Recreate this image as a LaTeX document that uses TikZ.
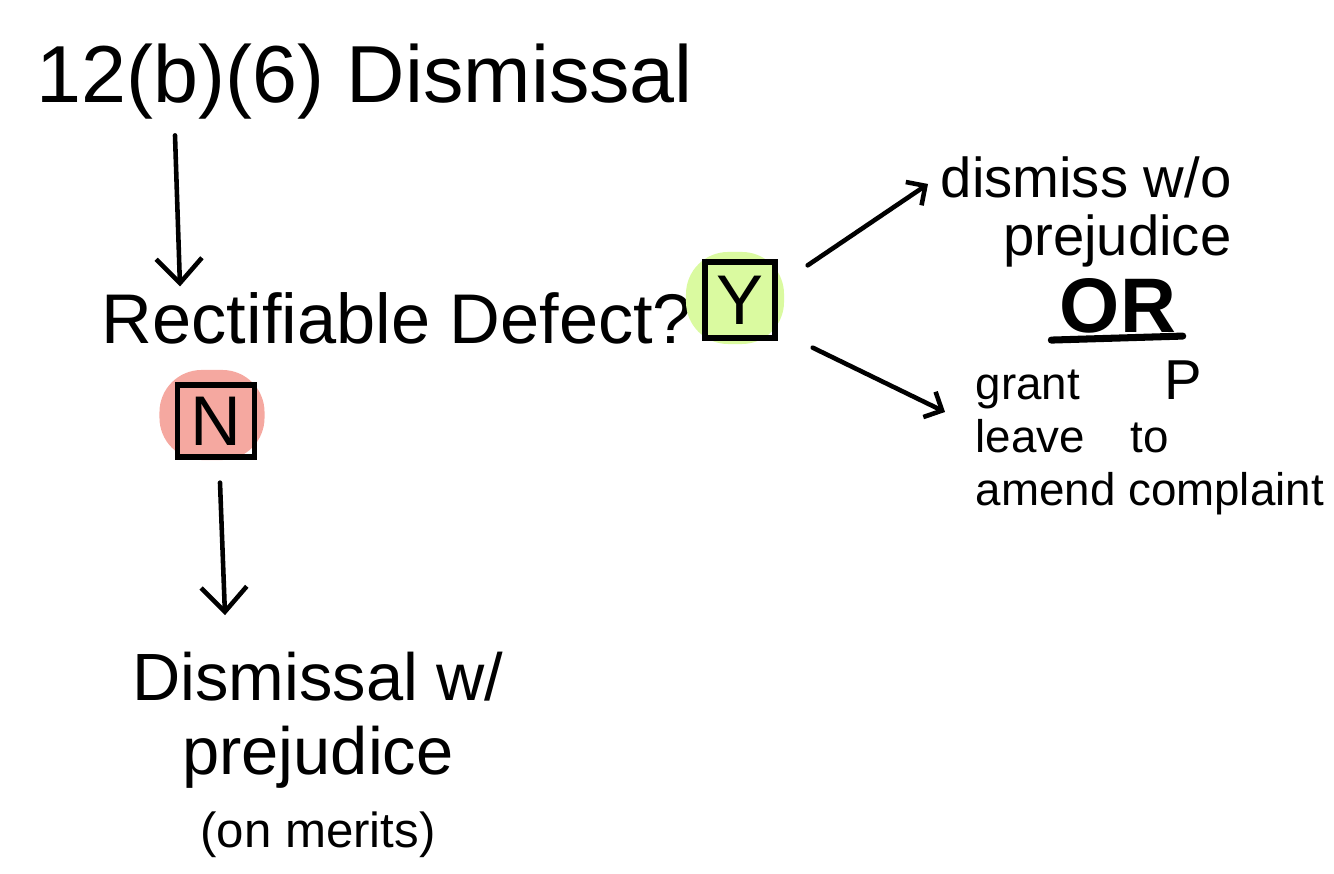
\documentclass[tikz,border=0pt]{standalone}
\usepackage{fontspec}
\setmainfont{Liberation Sans}
\usetikzlibrary{arrows.meta,positioning}
\definecolor{clrY}{RGB}{218,250,160}
\definecolor{clrN}{RGB}{245,168,160}
\tikzset{
  hand/.style={inner sep=0pt,align=center},
  blob/.style={rounded corners=12pt,inner sep=0pt},
  answer/.style={draw,line width=1.5pt,inner sep=0pt,font=\fontsize{20}{20}\selectfont},
  arrow/.style={-{Straight Barb[length=7pt,width=13pt]},line width=1.3pt,line cap=round},
  smallarrow/.style={-{Straight Barb[length=4pt,width=8pt]},line width=1.3pt,line cap=round}
}
\begin{document}
\begin{tikzpicture}[x=0.01cm,y=-0.01cm]
  \useasboundingbox (0,0) rectangle (1334,874);
  \node[hand,font=\fontsize{23}{23}\selectfont] (title) at (365,82) {12(b)(6) Dismissal};
  \node[hand,font=\fontsize{20}{20}\selectfont] (question) at (397,318) {Rectifiable Defect?};
  \node[blob,fill=clrY,minimum width=0.98cm,minimum height=0.92cm] (yblob) at (735,298) {};
  \node[answer,minimum width=0.7cm,minimum height=0.76cm] (ybox) at (740,300) {Y};
  \node[blob,fill=clrN,minimum width=1.05cm,minimum height=0.9cm] (nblob) at (212,415) {};
  \node[answer,minimum width=0.77cm,minimum height=0.72cm] (nbox) at (216,421) {N};
  \node[hand,font=\fontsize{19}{21}\selectfont] (result) at (318,755)
    {Dismissal w/\\prejudice\\{\fontsize{14}{21}\selectfont(on merits)}};
  \node[hand,align=right,anchor=west,font=\fontsize{16}{16.5}\selectfont] (upper) at (940,212)
    {dismiss w/o\\prejudice};
  \node[hand,font=\fontsize{22}{22}\selectfont\bfseries] (orlabel) at (1118,306) {OR};
  \node[hand,align=left,anchor=west,font=\fontsize{13}{15}\selectfont] (lower) at (975,438)
    {grant\hspace{24pt}{\fontsize{16}{15}\selectfont P}\\leave\quad to\\amend complaint};
  \draw[line width=2pt,line cap=round] ([shift={(-8,6)}]orlabel.south west) -- ([shift={(6,2)}]orlabel.south east);
  \draw[arrow] ([shift={(-190,15)}]title.south) -- ([shift={(-217,-5)}]question.north);
  \draw[arrow] ([shift={(4,23)}]nbox.south) -- ([shift={(9,-36)}]nbox.south |- result.north);
  \draw[smallarrow] ([shift={(30,6)}]ybox.north east) -- ([shift={(-12,-28)}]upper.west);
  \draw[smallarrow] ([shift={(35,7)}]ybox.south east) -- ([shift={(-30,-26)}]lower.west);
\end{tikzpicture}
\end{document}
